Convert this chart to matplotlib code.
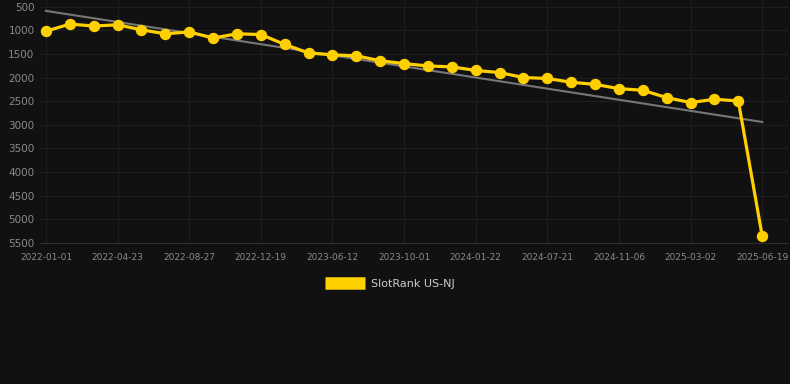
import matplotlib
matplotlib.use("Agg")
import matplotlib.pyplot as plt
import numpy as np

# SlotRank values, one every ~ few weeks (lower is better, axis is inverted)
ranks = [1020, 870, 910, 885, 990, 1075, 1035, 1165, 1075, 1090,
         1300, 1480, 1520, 1540, 1645, 1705, 1755, 1775, 1850, 1895,
         2000, 2020, 2100, 2145, 2235, 2270, 2425, 2530, 2460, 2495,
         5355]
tick_labels = ["2022-01-01", "2022-04-23", "2022-08-27", "2022-12-19",
               "2023-06-12", "2023-10-01", "2024-01-22", "2024-07-21",
               "2024-11-06", "2025-03-02", "2025-06-19"]
trend_ends = [590, 2940]
y_ticks = [500, 1000, 1500, 2000, 2500, 3000, 3500, 4000, 4500, 5000, 5500]

bg = "#111111"
yellow = "#FFD000"

fig = plt.figure(figsize=(7.9, 3.84), dpi=100, facecolor=bg)
ax = fig.add_axes([40 / 790, 141 / 384, 748 / 790, 243 / 384], facecolor=bg)

x = np.arange(len(ranks))
ax.plot([x[0], x[-1]], trend_ends, color="#777777", lw=1.5, zorder=2)
ax.plot(x, ranks, color=yellow, lw=2.3, marker="o", markersize=7.2,
        zorder=3, label="SlotRank US-NJ")

ax.set_xlim(-0.25, 31.08)
ax.set_ylim(5500, 360)
ax.set_yticks(y_ticks)
ax.set_xticks(x[::3])
ax.set_xticklabels(tick_labels)

ax.grid(True, color="#1e1e1e", lw=0.8)
ax.set_axisbelow(True)
for side in ["top", "right", "left"]:
    ax.spines[side].set_visible(False)
ax.spines["bottom"].set_color("#2e2e2e")
ax.tick_params(axis="y", colors="#8a8a8a", labelsize=7.5, length=0, pad=4)
ax.tick_params(axis="x", colors="#8a8a8a", labelsize=6.5, length=0, pad=7)

leg = fig.legend(loc="center", bbox_to_anchor=(390 / 790, 1 - 284 / 384),
                 frameon=False, handlelength=3.6, handleheight=1.0,
                 handletextpad=0.6, fontsize=8, labelcolor="#cccccc")
h = leg.legend_handles[0]
h.set_marker("")
h.set_linewidth(9)
h.set_solid_capstyle("butt")

fig.savefig("out.png", dpi=100, facecolor=bg)
